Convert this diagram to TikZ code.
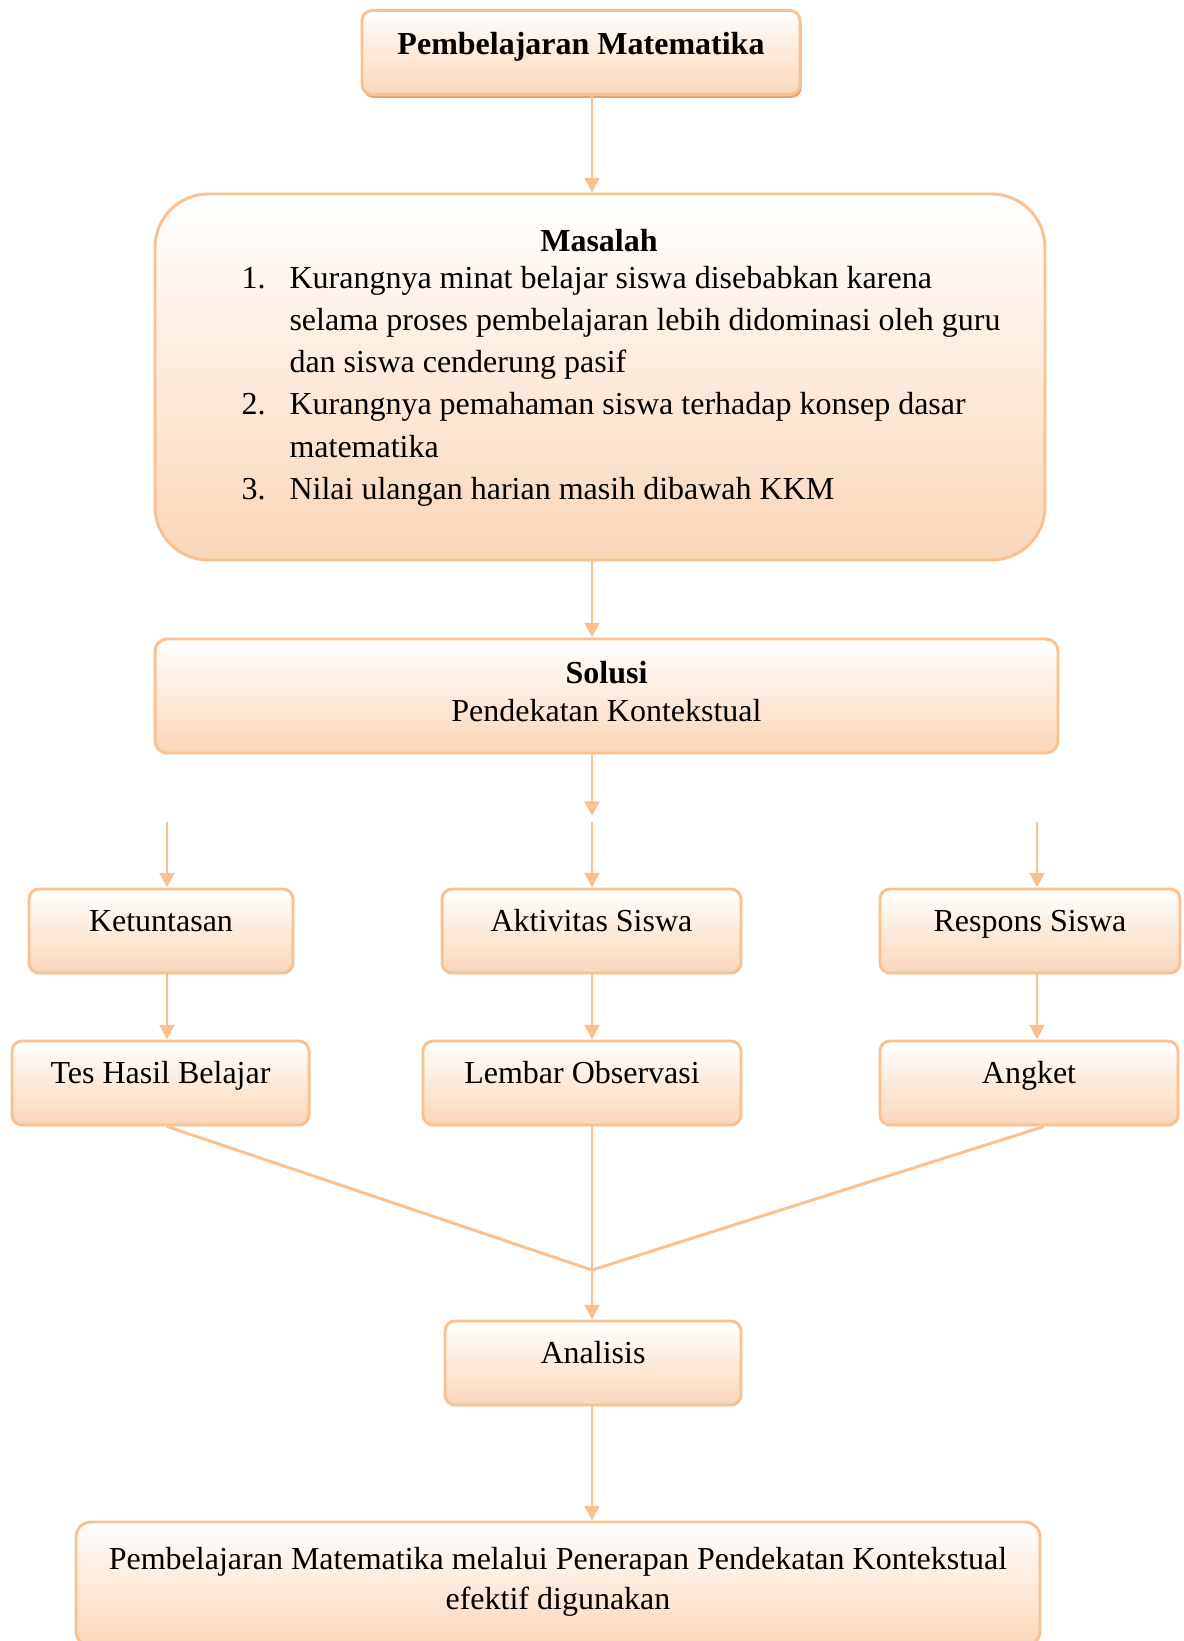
\documentclass[tikz,border=0pt]{standalone}
\usepackage{fontspec}
\setmainfont{Liberation Serif}
\usetikzlibrary{arrows.meta, shadows}
\definecolor{garisoranye}{RGB}{250,192,144}
\definecolor{isioranye}{RGB}{250,214,184}
\definecolor{bayangoranye}{RGB}{222,164,120}
\tikzset{
  kotak/.style={draw=garisoranye, line width=1.1pt, rounded corners=3.75pt, top color=white, bottom color=isioranye, minimum height=31.5pt, inner sep=0pt, font=\fontsize{12}{15.7}\selectfont},
  kotaksatu/.style={kotak, text height=8.5pt, text depth=8.5pt},
  panah/.style={draw=garisoranye, line width=1.1pt, -{Triangle[width=5.5pt,length=5.5pt]}},
  garis/.style={draw=garisoranye, line width=1.1pt}
}
\begin{document}
\begin{tikzpicture}[x=0.375pt, y=-0.375pt]
\useasboundingbox (0,0) rectangle (1184,1641);

\node[kotaksatu, text depth=7pt, minimum width=164.25pt, font=\bfseries\fontsize{12}{15.7}\selectfont, drop shadow={shadow xshift=0.6pt, shadow yshift=-1.3pt, fill=bayangoranye, opacity=1}] (judul) at (581,52.5) {Pembelajaran Matematika};

\node[kotak, minimum width=333.75pt, minimum height=137.25pt, rounded corners=20pt] (masalah) at (600,377) {};
\node[anchor=base, inner sep=0pt, font=\bfseries\fontsize{12}{15.85}\selectfont] (judulmasalah) at (599,251) {Masalah};
\node[anchor=base west, inner sep=0pt, font=\fontsize{12}{15.85}\selectfont] (daftarmasalah) at (241,288) {\begin{tabular}[t]{@{}p{18pt}@{}l@{}}
1. & Kurangnya minat belajar siswa disebabkan karena\\
   & selama proses pembelajaran lebih didominasi oleh guru\\
   & dan siswa cenderung pasif\\
2. & Kurangnya pemahaman siswa terhadap konsep dasar\\
   & matematika\\
3. & Nilai ulangan harian masih dibawah KKM
\end{tabular}};

\node[kotak, minimum width=338.6pt, minimum height=42.75pt, rounded corners=4.5pt, align=center, text depth=3.8pt, font=\fontsize{12}{14.25}\selectfont] (solusi) at (606.5,696) {\textbf{Solusi}\\Pendekatan Kontekstual};

\node[kotaksatu, minimum width=99pt] (ketuntasan) at (161,931) {Ketuntasan};
\node[kotaksatu, minimum width=112.1pt] (aktivitas) at (591.5,931) {Aktivitas Siswa};
\node[kotaksatu, minimum width=112.5pt] (respons) at (1030,931) {Respons Siswa};

\node[kotaksatu, minimum width=111.4pt] (tes) at (160.5,1083) {Tes Hasil Belajar};
\node[kotaksatu, minimum width=119.25pt] (lembar) at (582,1083) {Lembar Observasi};
\node[kotaksatu, minimum width=111.75pt] (angket) at (1029,1083) {Angket};

\node[kotaksatu, text depth=8pt, minimum width=111pt] (analisis) at (593,1363) {Analisis};

\node[kotak, minimum width=361.5pt, minimum height=46.5pt, rounded corners=5.6pt, align=center, text depth=4pt, font=\fontsize{12}{15}\selectfont] (kesimpulan) at (558,1584) {Pembelajaran Matematika melalui Penerapan Pendekatan Kontekstual\\efektif digunakan};

\coordinate (ujungsolusi) at (592,816);
\coordinate (kiri) at (167,822);
\coordinate (tengah) at (592,822);
\coordinate (kanan) at (1037,822);
\coordinate (temu) at (592,1270);

\draw[panah] (judul.south -| tengah) -- (masalah.north -| tengah);
\draw[panah] (masalah.south -| tengah) -- (solusi.north -| tengah);
\draw[panah] (solusi.south -| tengah) -- (ujungsolusi);
\draw[panah] (kiri) -- (kiri |- ketuntasan.north);
\draw[panah] (tengah) -- (tengah |- aktivitas.north);
\draw[panah] (kanan) -- (kanan |- respons.north);
\draw[panah] (ketuntasan.south -| kiri) -- (tes.north -| kiri);
\draw[panah] (aktivitas.south -| tengah) -- (lembar.north -| tengah);
\draw[panah] (respons.south -| kanan) -- (angket.north -| kanan);
\draw[garis] (tes.south -| kiri) -- (temu);
\draw[garis] (lembar.south -| tengah) -- (temu);
\draw[garis] ([xshift=5.6pt]angket.south) -- (temu);
\draw[panah] (temu) -- (analisis.north -| temu);
\draw[panah] (analisis.south -| temu) -- (kesimpulan.north -| temu);
\end{tikzpicture}
\end{document}
